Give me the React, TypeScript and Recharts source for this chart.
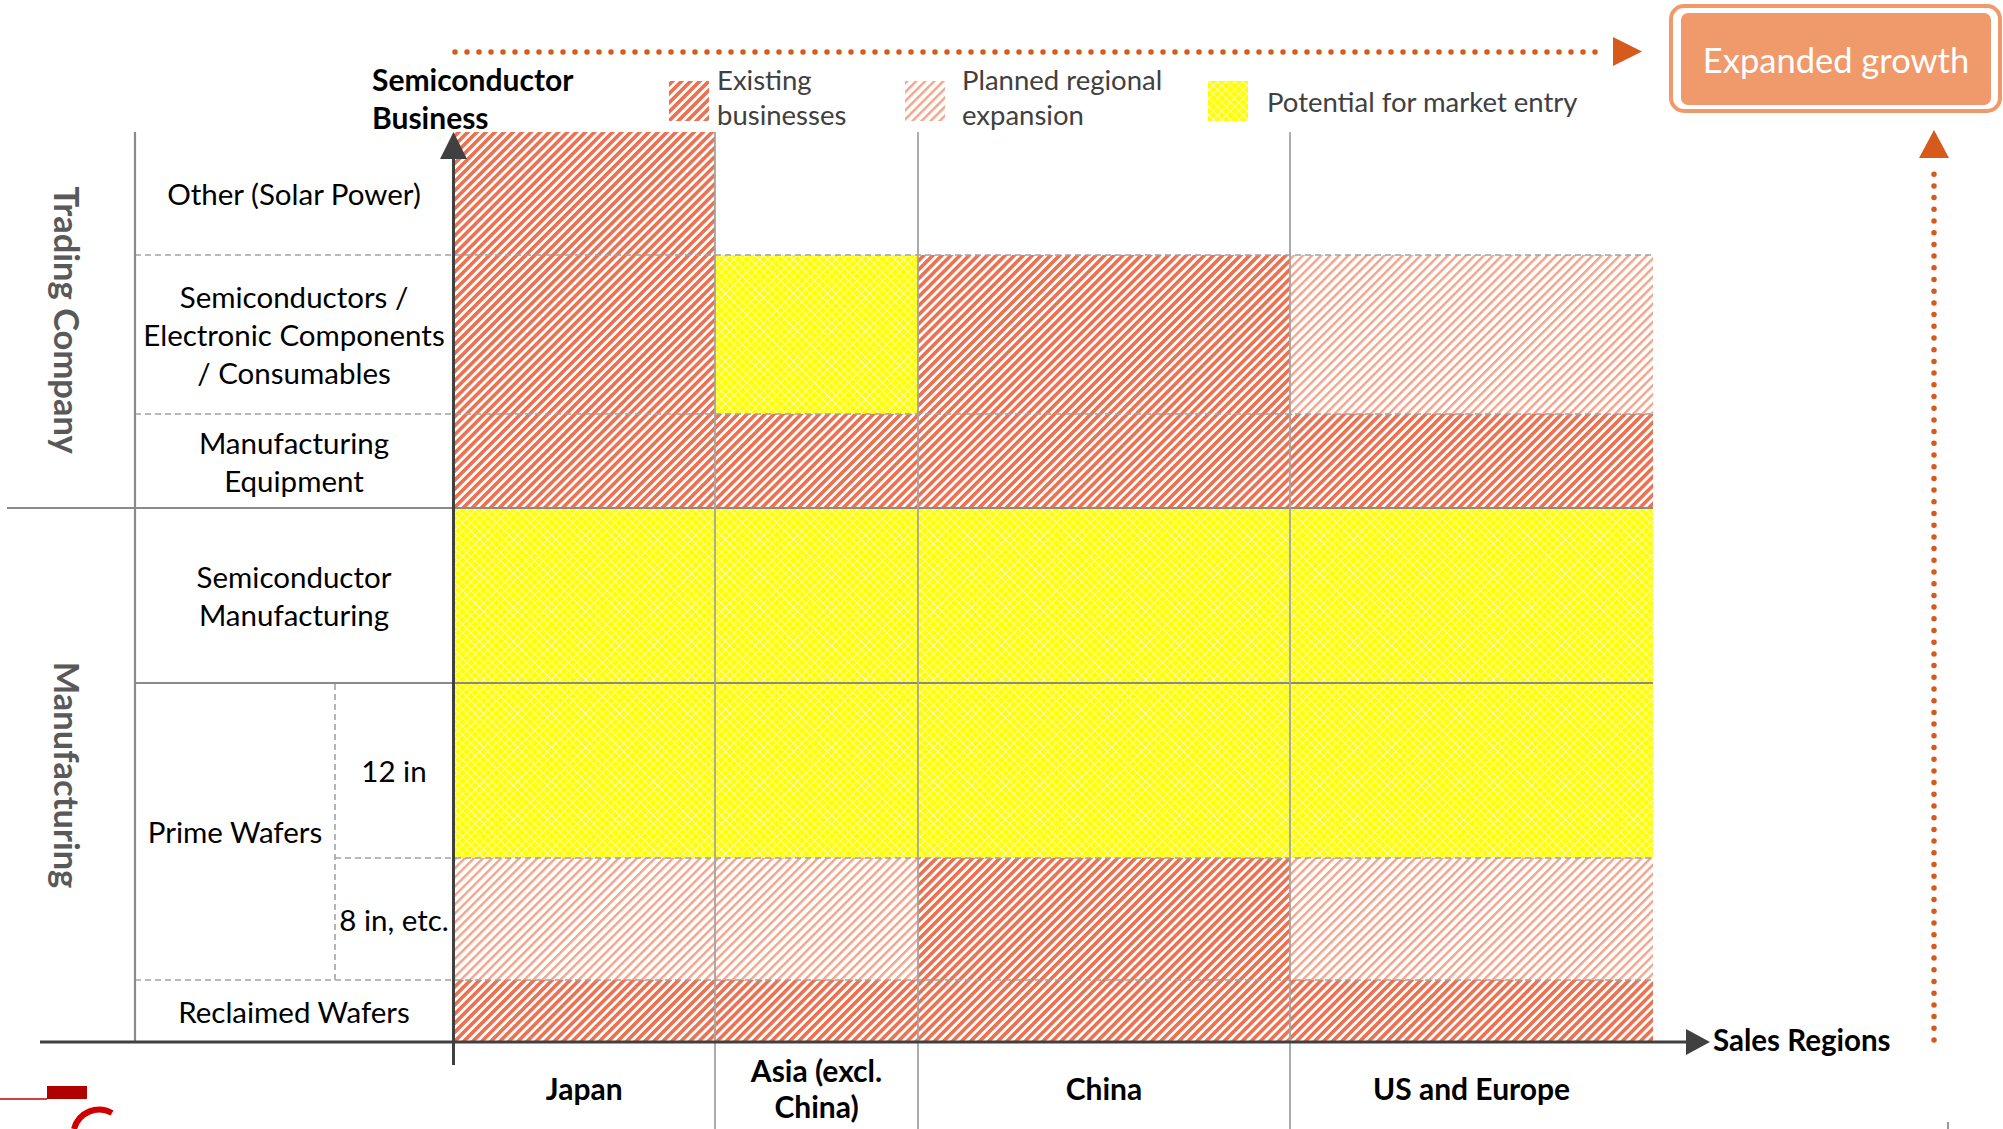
import React from 'react';
import { ComposedChart, XAxis, YAxis, ReferenceArea, ReferenceLine } from 'recharts';

const W = 2003;
const H = 1129;

// sales regions, left to right, with how wide each column is drawn
const regions = ['Japan', 'Asia (excl.\nChina)', 'China', 'US and Europe'];
const regionSpan = [261.5, 203, 372, 363];

// business rows, bottom to top, with how tall each row is drawn
const businesses = [
  'Reclaimed Wafers',
  '8 in, etc.',
  '12 in',
  'Semiconductor\nManufacturing',
  'Manufacturing\nEquipment',
  'Semiconductors /\nElectronic Components\n/ Consumables',
  'Other (Solar Power)',
];
const businessSpan = [62, 122, 175, 175, 94, 159, 123];

const primeWaferRows = [1, 2];
const segments = ['Manufacturing', 'Trading Company'];
const segmentRowCount = [4, 3];

// E = existing, P = planned regional expansion, Y = potential for market entry
const status = [
  ['E', 'E', 'E', 'E'],
  ['P', 'P', 'E', 'P'],
  ['Y', 'Y', 'Y', 'Y'],
  ['Y', 'Y', 'Y', 'Y'],
  ['E', 'E', 'E', 'E'],
  ['E', 'Y', 'E', 'P'],
  ['E', '', '', ''],
];

const legendItems = [
  { key: 'E', label: 'Existing\nbusinesses' },
  { key: 'P', label: 'Planned regional\nexpansion' },
  { key: 'Y', label: 'Potential for market entry' },
];

const fills: Record<string, string> = {
  E: 'url(#pat-existing)',
  P: 'url(#pat-planned)',
  Y: 'url(#pat-potential)',
};

const FONT = 'Lato, "Open Sans", sans-serif';
const GRID = '#a3a3a3';
const AXIS = '#404040';
const ORANGE = '#d65a1c';

// plot sits between these; the domain equals the plot size so 1 unit = 1px
const PLOT_LEFT = 453.5;
const PLOT_BOTTOM = 1042;
const TABLE_LEFT = 135;
const SUB_COL = 335;
const SEG_LEFT = 7;
const toX = (px: number) => px - PLOT_LEFT;

const cum = (arr: number[]) =>
  arr.reduce((acc, v) => [...acc, acc[acc.length - 1] + v], [0] as number[]);
const xEdges = cum(regionSpan);
const yEdges = cum(businessSpan);
const xMax = xEdges[xEdges.length - 1];
const yMax = yEdges[yEdges.length - 1];

const regionCenters = regions.map((_, i) => (xEdges[i] + xEdges[i + 1]) / 2);

// labels on the left, all placed as y axis ticks
const primeLo = yEdges[primeWaferRows[0]];
const primeHi = yEdges[primeWaferRows[primeWaferRows.length - 1] + 1];
const segEdges = cum(segmentRowCount).map((n) => yEdges[n]);
const leftLabels = [
  ...businesses.map((b, i) => ({
    value: (yEdges[i] + yEdges[i + 1]) / 2,
    text: b,
    kind: primeWaferRows.includes(i) ? 'sub' : 'main',
  })),
  { value: (primeLo + primeHi) / 2, text: 'Prime Wafers', kind: 'group' },
  ...segments.map((s, i) => ({
    value: (segEdges[i] + segEdges[i + 1]) / 2,
    text: s,
    kind: 'segment',
  })),
];

const labelX: Record<string, number> = { main: 294, sub: 394, group: 235, segment: 67 };

function BusinessTick(props: any) {
  const { y, payload } = props;
  const item = leftLabels.find((l) => Math.abs(l.value - payload.value) < 1e-6);
  if (!item) return null;
  const x = labelX[item.kind];
  if (item.kind === 'segment') {
    return (
      <text
        x={x}
        y={y}
        transform={`rotate(90, ${x}, ${y})`}
        textAnchor="middle"
        dominantBaseline="central"
        fontFamily={FONT}
        fontWeight={700}
        fontSize={34.5}
        fill="#595959"
      >
        {item.text}
      </text>
    );
  }
  const lines = item.text.split('\n');
  return (
    <g>
      {lines.map((l, i) => (
        <text
          key={i}
          x={x}
          y={y + (i - (lines.length - 1) / 2) * 38}
          textAnchor="middle"
          dominantBaseline="central"
          fontFamily={FONT}
          fontSize={29.5}
          fill="#000"
        >
          {l}
        </text>
      ))}
    </g>
  );
}

function RegionTick(props: any) {
  const { x, y, payload } = props;
  const idx = regionCenters.findIndex((c) => Math.abs(c - payload.value) < 1e-6);
  if (idx < 0) return null;
  const lines = regions[idx].split('\n');
  return (
    <g>
      {lines.map((l, i) => (
        <text
          key={i}
          x={x}
          y={y + 46 + (i - (lines.length - 1) / 2) * 36}
          textAnchor="middle"
          dominantBaseline="central"
          fontFamily={FONT}
          fontWeight={700}
          fontSize={30}
          fill="#000"
        >
          {l}
        </text>
      ))}
    </g>
  );
}

const arrowShape = (len: number, half: number) => (p: any) => {
  const { x1, y1, x2, y2, stroke, strokeWidth } = p;
  const L = Math.hypot(x2 - x1, y2 - y1) || 1;
  const ux = (x2 - x1) / L;
  const uy = (y2 - y1) / L;
  const bx = x2 - ux * len;
  const by = y2 - uy * len;
  return (
    <g>
      <line x1={x1} y1={y1} x2={bx + ux} y2={by + uy} stroke={stroke} strokeWidth={strokeWidth} />
      <polygon
        points={`${x2},${y2} ${bx - uy * half},${by + ux * half} ${bx + uy * half},${by - ux * half}`}
        fill={stroke}
      />
    </g>
  );
};

function rowLine(i: number) {
  const y = yEdges[i];
  const segBoundary = segEdges.slice(1, -1).includes(y);
  const groupTop = y === primeHi;
  const insideGroup = y > primeLo && y < primeHi;
  const from = segBoundary ? SEG_LEFT : insideGroup ? SUB_COL : TABLE_LEFT;
  const solid = segBoundary || groupTop;
  return (
    <ReferenceLine
      key={`row-${i}`}
      segment={[
        { x: toX(from), y },
        { x: xMax, y },
      ]}
      ifOverflow="visible"
      stroke={solid ? '#8a8a8a' : GRID}
      strokeWidth={solid ? 2.2 : 1.6}
      strokeDasharray={solid ? undefined : '6 4'}
    />
  );
}

function Legend() {
  const swatchX = [669, 905, 1208];
  const textX = [717, 962, 1267];
  return (
    <g>
      {legendItems.map((it, i) => {
        const lines = it.label.split('\n');
        return (
          <g key={it.key}>
            <rect x={swatchX[i]} y={81} width={40} height={40} fill={fills[it.key]} />
            {lines.map((l, j) => (
              <text
                key={j}
                x={textX[i]}
                y={lines.length === 1 ? 101 : 79 + j * 35.5}
                dominantBaseline="central"
                fontFamily={FONT}
                fontSize={27.5}
                fill="#404040"
              >
                {l}
              </text>
            ))}
          </g>
        );
      })}
    </g>
  );
}

export default function App() {
  return (
    <div style={{ position: 'absolute', left: 0, top: 0, width: W, height: H, background: '#fff' }}>
      <svg width={0} height={0} style={{ position: 'absolute' }}>
        <defs>
          <pattern id="pat-existing" width={6.4} height={6.4} patternUnits="userSpaceOnUse" patternTransform="rotate(45)">
            <rect width={6.4} height={6.4} fill="#fff" />
            <rect width={3.6} height={6.4} fill="#ec7150" />
          </pattern>
          <pattern id="pat-planned" width={6.4} height={6.4} patternUnits="userSpaceOnUse" patternTransform="rotate(45)">
            <rect width={6.4} height={6.4} fill="#fff" />
            <rect width={2.4} height={6.4} fill="#f3a389" />
          </pattern>
          <pattern id="pat-potential" width={6} height={6} patternUnits="userSpaceOnUse" patternTransform="rotate(45)">
            <rect width={6} height={6} fill="#ffff00" />
            <rect width={1} height={6} fill="#fffbb0" />
            <rect width={6} height={1} fill="#fffbb0" />
          </pattern>
        </defs>
      </svg>

      <ComposedChart width={W} height={H} margin={{ top: 132, right: 350, bottom: 0, left: 0 }}>
        <XAxis
          type="number"
          dataKey="x"
          domain={[0, xMax]}
          ticks={regionCenters}
          tick={<RegionTick />}
          interval={0}
          axisLine={false}
          tickLine={false}
          tickSize={0}
          tickMargin={0}
          height={H - PLOT_BOTTOM}
          allowDataOverflow
        />
        <YAxis
          type="number"
          domain={[0, yMax]}
          ticks={leftLabels.map((l) => l.value)}
          tick={<BusinessTick />}
          interval={0}
          axisLine={false}
          tickLine={false}
          width={PLOT_LEFT}
          allowDataOverflow
        />

        {status.map((row, r) =>
          row.map((s, c) =>
            s ? (
              <ReferenceArea
                key={`cell-${r}-${c}`}
                x1={xEdges[c]}
                x2={xEdges[c + 1]}
                y1={yEdges[r]}
                y2={yEdges[r + 1]}
                fill={fills[s]}
                fillOpacity={1}
                stroke="none"
              />
            ) : null,
          ),
        )}

        {yEdges.slice(1, -1).map((_, k) => rowLine(k + 1))}

        <ReferenceLine
          segment={[
            { x: toX(TABLE_LEFT), y: 0 },
            { x: toX(TABLE_LEFT), y: yMax },
          ]}
          ifOverflow="visible"
          stroke="#8a8a8a"
          strokeWidth={2.2}
        />
        <ReferenceLine
          segment={[
            { x: toX(SUB_COL), y: primeLo },
            { x: toX(SUB_COL), y: primeHi },
          ]}
          ifOverflow="visible"
          stroke={GRID}
          strokeWidth={1.6}
          strokeDasharray="6 4"
        />
        {xEdges.slice(1, -1).map((x, i) => (
          <ReferenceLine
            key={`col-${i}`}
            segment={[
              { x, y: yMax },
              { x, y: -(H - PLOT_BOTTOM) },
            ]}
            ifOverflow="visible"
            stroke={GRID}
            strokeWidth={1.8}
          />
        ))}

        {/* axes with arrow heads */}
        <ReferenceLine
          segment={[
            { x: 0, y: -23 },
            { x: 0, y: yMax },
          ]}
          ifOverflow="visible"
          stroke={AXIS}
          strokeWidth={3}
          shape={arrowShape(27, 13.5)}
        />
        <ReferenceLine
          segment={[
            { x: toX(40), y: 0 },
            { x: toX(1710), y: 0 },
          ]}
          ifOverflow="visible"
          stroke={AXIS}
          strokeWidth={3}
          shape={arrowShape(24, 13)}
        />
      </ComposedChart>

      <svg
        width={W}
        height={H}
        style={{ position: 'absolute', left: 0, top: 0, pointerEvents: 'none' }}
      >
        <text fontFamily={FONT} fontWeight={700} fontSize={30} fill="#000">
          <tspan x={372} y={91}>Semiconductor</tspan>
          <tspan x={372} y={129}>Business</tspan>
        </text>
        <text x={1713} y={1051} fontFamily={FONT} fontWeight={700} fontSize={29.5} fill="#000">
          Sales Regions
        </text>

        <Legend />

        {/* growth arrows */}
        <line x1={455} y1={52} x2={1606} y2={52} stroke={ORANGE} strokeWidth={5.5} strokeDasharray="0 12" strokeLinecap="round" />
        <polygon points="1613,37 1613,66 1642,51.5" fill={ORANGE} />
        <line x1={1934} y1={1040} x2={1934} y2={164} stroke={ORANGE} strokeWidth={5.5} strokeDasharray="0 11.7" strokeLinecap="round" />
        <polygon points="1919,158 1949,158 1934,130" fill={ORANGE} />

        <rect x={1671} y={6} width={329} height={105} rx={13} fill="#fff" stroke="#f0996b" strokeWidth={4} />
        <rect x={1681} y={13} width={310} height={92} rx={7} fill="#f0996b" />
        <text x={1836} y={59} textAnchor="middle" dominantBaseline="central" fontFamily={FONT} fontSize={34.5} fill="#fff">
          Expanded growth
        </text>

        {/* cropped logo remnants and edge tick */}
        <line x1={0} y1={1099} x2={47} y2={1099} stroke="#c00000" strokeWidth={1.5} />
        <rect x={47} y={1086} width={40} height={13} fill="#b00000" />
        <path d="M 74 1129 A 26 26 0 0 1 112 1113" fill="none" stroke="#d00000" strokeWidth={6} />
        <line x1={1948} y1={1122} x2={1948} y2={1129} stroke="#999" strokeWidth={2} />
      </svg>
    </div>
  );
}
